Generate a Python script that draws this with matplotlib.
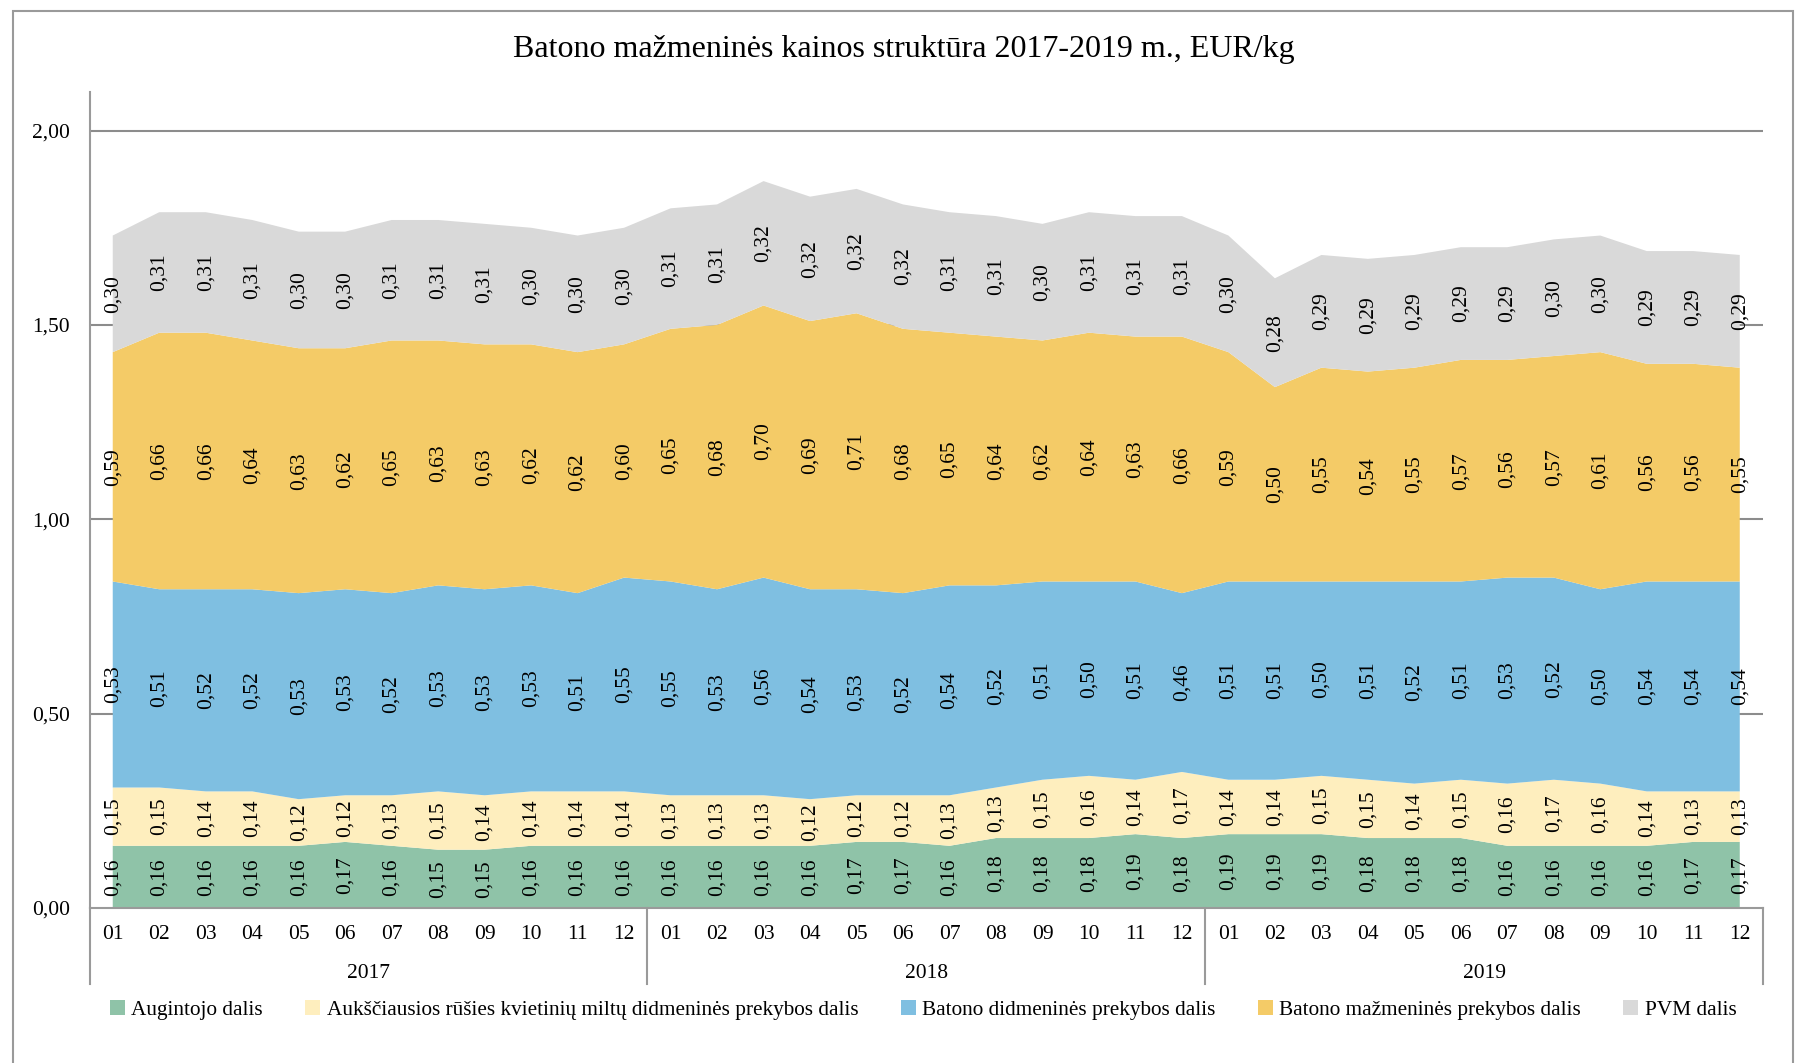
import matplotlib
matplotlib.use("Agg")
import matplotlib.pyplot as plt
from matplotlib.patches import Rectangle
from matplotlib.lines import Line2D
import numpy as np

plt.rcParams['font.family'] = ['Liberation Serif', 'DejaVu Serif']

months = ["01", "02", "03", "04", "05", "06", "07", "08", "09", "10", "11", "12"]
years = ["2017", "2018", "2019"]

augintojo = [0.16, 0.16, 0.16, 0.16, 0.16, 0.17, 0.16, 0.15, 0.15, 0.16, 0.16, 0.16,
             0.16, 0.16, 0.16, 0.16, 0.17, 0.17, 0.16, 0.18, 0.18, 0.18, 0.19, 0.18,
             0.19, 0.19, 0.19, 0.18, 0.18, 0.18, 0.16, 0.16, 0.16, 0.16, 0.17, 0.17]
miltu = [0.15, 0.15, 0.14, 0.14, 0.12, 0.12, 0.13, 0.15, 0.14, 0.14, 0.14, 0.14,
         0.13, 0.13, 0.13, 0.12, 0.12, 0.12, 0.13, 0.13, 0.15, 0.16, 0.14, 0.17,
         0.14, 0.14, 0.15, 0.15, 0.14, 0.15, 0.16, 0.17, 0.16, 0.14, 0.13, 0.13]
didmenines = [0.53, 0.51, 0.52, 0.52, 0.53, 0.53, 0.52, 0.53, 0.53, 0.53, 0.51, 0.55,
              0.55, 0.53, 0.56, 0.54, 0.53, 0.52, 0.54, 0.52, 0.51, 0.50, 0.51, 0.46,
              0.51, 0.51, 0.50, 0.51, 0.52, 0.51, 0.53, 0.52, 0.50, 0.54, 0.54, 0.54]
mazmenines = [0.59, 0.66, 0.66, 0.64, 0.63, 0.62, 0.65, 0.63, 0.63, 0.62, 0.62, 0.60,
              0.65, 0.68, 0.70, 0.69, 0.71, 0.68, 0.65, 0.64, 0.62, 0.64, 0.63, 0.66,
              0.59, 0.50, 0.55, 0.54, 0.55, 0.57, 0.56, 0.57, 0.61, 0.56, 0.56, 0.55]
pvm = [0.30, 0.31, 0.31, 0.31, 0.30, 0.30, 0.31, 0.31, 0.31, 0.30, 0.30, 0.30,
       0.31, 0.31, 0.32, 0.32, 0.32, 0.32, 0.31, 0.31, 0.30, 0.31, 0.31, 0.31,
       0.30, 0.28, 0.29, 0.29, 0.29, 0.29, 0.29, 0.30, 0.30, 0.29, 0.29, 0.29]

series_names = ["Augintojo dalis",
                "Aukščiausios rūšies kvietinių miltų didmeninės prekybos dalis",
                "Batono didmeninės prekybos dalis",
                "Batono mažmeninės prekybos dalis",
                "PVM dalis"]
colors = ["#8FC3A8", "#FEEEBE", "#7FBFE1", "#F4CB67", "#D9D9D9"]
title = "Batono mažmeninės kainos struktūra 2017-2019 m., EUR/kg"
yticks = [0.0, 0.5, 1.0, 1.5, 2.0]

W, H = 1798, 1063
fig = plt.figure(figsize=(W / 100, H / 100), dpi=100)
ax = fig.add_axes([89.5 / W, 1 - 908 / H, (1763 - 89.5) / W, (908 - 91.7) / H])

data = [augintojo, miltu, didmenines, mazmenines, pvm]
n = len(augintojo)
x = np.arange(n)
ax.stackplot(x, *data, colors=colors, labels=series_names, zorder=2, linewidth=0)

bottom = np.zeros(n)
for vals in data:
    v = np.array(vals)
    for i in range(n):
        ax.text(x[i], bottom[i] + v[i] / 2, f"{v[i]:.2f}".replace(".", ","),
                rotation=90, ha="center", va="center", fontsize=15.5, color="black", zorder=4)
    bottom += v

ax.set_xlim(-0.5, n - 0.5)
ax.set_ylim(0, 2.1)
ax.set_yticks(yticks)
ax.set_yticklabels([f"{t:.2f}".replace(".", ",") for t in yticks], fontsize=15.5)
for t in yticks[1:]:
    ax.axhline(t, color="#8C8C8C", lw=1.5, zorder=1)
ax.tick_params(axis="y", length=0, pad=14)
ax.tick_params(axis="x", length=0)
ax.set_xticks(x)
ax.set_xticklabels(months * len(years), fontsize=15.5)
ax.tick_params(axis="x", pad=12)

for s in ["top", "right"]:
    ax.spines[s].set_visible(False)
ax.spines["left"].set_color("#9A9A9A")
ax.spines["left"].set_linewidth(1.5)
ax.spines["bottom"].set_color("#9A9A9A")
ax.spines["bottom"].set_linewidth(1.5)

# group separators and year labels
trans = ax.get_xaxis_transform()
sep_bottom = -(984 - 908) / (908 - 91.7)
for k in range(len(years) + 1):
    xs = -0.5 + 12 * k
    ax.add_line(Line2D([xs, xs], [0, sep_bottom], transform=trans, color="#9A9A9A",
                       lw=1.5, clip_on=False))
for k, yr in enumerate(years):
    ax.text(5.5 + 12 * k, -(974 - 908) / (908 - 91.7), yr, transform=trans,
            ha="center", va="center", fontsize=15.5)

fig.text(904 / W, 1 - 49 / H, title, ha="center", va="center", fontsize=23)

# legend
handles, labels = ax.get_legend_handles_labels()
leg = fig.legend(handles, labels, loc="center", bbox_to_anchor=(0.5134, 1 - 1010 / H),
                 ncol=5, frameon=False, fontsize=15.3, handlelength=0.7, handleheight=0.7,
                 handletextpad=0.3, columnspacing=2.0)

# outer border
fig.patches.append(Rectangle((13 / W, -0.05), (1793 - 13) / W, 1.05 - 11 / H,
                             transform=fig.transFigure, fill=False,
                             edgecolor="#9A9A9A", lw=1.5))

fig.savefig("out.png", dpi=100)
